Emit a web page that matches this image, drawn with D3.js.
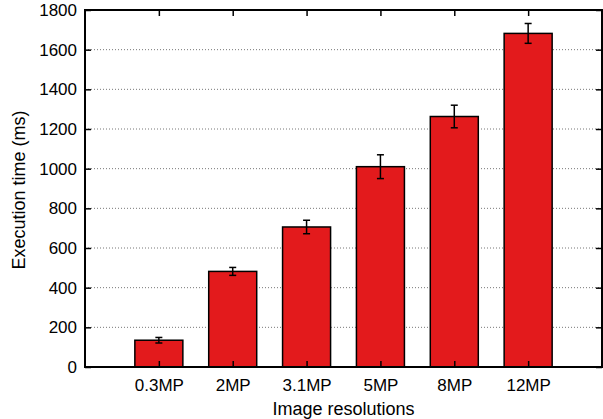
<!DOCTYPE html>
<html><head><meta charset="utf-8">
<script src="https://cdn.jsdelivr.net/npm/d3@7"></script>
<style>body{margin:0;background:#fff}svg{display:block;font-family:"Liberation Sans",Arial,Helvetica,sans-serif}</style>
</head><body><svg id="c" width="603" height="419"></svg>
<script>
const categories = ["0.3MP","2MP","3.1MP","5MP","8MP","12MP"];
const values = [135, 482, 706, 1010, 1263, 1682];
const errors = [14, 20, 34, 60, 57, 50];
const yTicks = [0,200,400,600,800,1000,1200,1400,1600,1800];

const svg = d3.select("#c");
const L = 85, R = 602, T = 10, B = 367;
const x = d3.scaleLinear().domain([0, categories.length + 1]).range([L, R]);
const y = d3.scaleLinear().domain([0, 1800]).range([B, T]);
const slot = x(1) - x(0), bw = slot * 0.65;

// grid
svg.append("g").selectAll("line").data(yTicks.filter(d => d > 0 && d < 1800)).join("line")
  .attr("x1", L).attr("x2", R).attr("y1", d => y(d)).attr("y2", d => y(d))
  .attr("stroke", "#777").attr("stroke-width", 1).attr("stroke-dasharray", "1,2");

// bars
svg.append("g").selectAll("rect").data(values).join("rect")
  .attr("x", (d, i) => x(i + 1) - bw / 2).attr("width", bw)
  .attr("y", d => y(d)).attr("height", d => B - y(d))
  .attr("fill", "#e31a1c").attr("stroke", "#000").attr("stroke-width", 1.5);

// error bars
const eg = svg.append("g").attr("stroke", "#000").attr("stroke-width", 1.5);
values.forEach((v, i) => {
  const cx = x(i + 1);
  eg.append("line").attr("x1", cx).attr("x2", cx).attr("y1", y(v - errors[i])).attr("y2", y(v + errors[i]));
  [v - errors[i], v + errors[i]].forEach(e => eg.append("line").attr("x1", cx - 3.5).attr("x2", cx + 3.5).attr("y1", y(e)).attr("y2", y(e)));
});

// axes
const yAxisL = d3.axisLeft(y).tickValues(yTicks).tickSize(-6).tickPadding(8).tickFormat(d3.format("d"));
const gl = svg.append("g").attr("transform", `translate(${L},0)`).call(yAxisL);
const yAxisR = d3.axisRight(y).tickValues(yTicks).tickSize(-6).tickFormat("");
const gr = svg.append("g").attr("transform", `translate(${R},0)`).call(yAxisR);
const xAxisB = d3.axisBottom(x).tickValues(d3.range(1, categories.length + 1)).tickSize(-6).tickPadding(12).tickFormat(d => categories[d - 1]);
const gb = svg.append("g").attr("transform", `translate(0,${B})`).call(xAxisB);
const xAxisT = d3.axisTop(x).tickValues(d3.range(1, categories.length + 1)).tickSize(-6).tickFormat("");
const gt = svg.append("g").attr("transform", `translate(0,${T})`).call(xAxisT);
[gl, gr, gb, gt].forEach(g => {
  g.select(".domain").remove();
  g.selectAll(".tick line").attr("stroke", "#000").attr("stroke-width", 1.5);
  g.selectAll("text").attr("font-size", 17).attr("fill", "#000").attr("font-family", "Liberation Sans, Arial, sans-serif");
});
// frame
svg.append("rect").attr("x", L).attr("y", T).attr("width", R - L).attr("height", B - T)
  .attr("fill", "none").attr("stroke", "#000").attr("stroke-width", 2);

svg.append("text").attr("x", (L + R) / 2).attr("y", 415).attr("text-anchor", "middle")
  .attr("font-size", 18).text("Image resolutions");
svg.append("text").attr("transform", "translate(25,190) rotate(-90)").attr("text-anchor", "middle")
  .attr("font-size", 18).text("Execution time (ms)");
</script></body></html>
